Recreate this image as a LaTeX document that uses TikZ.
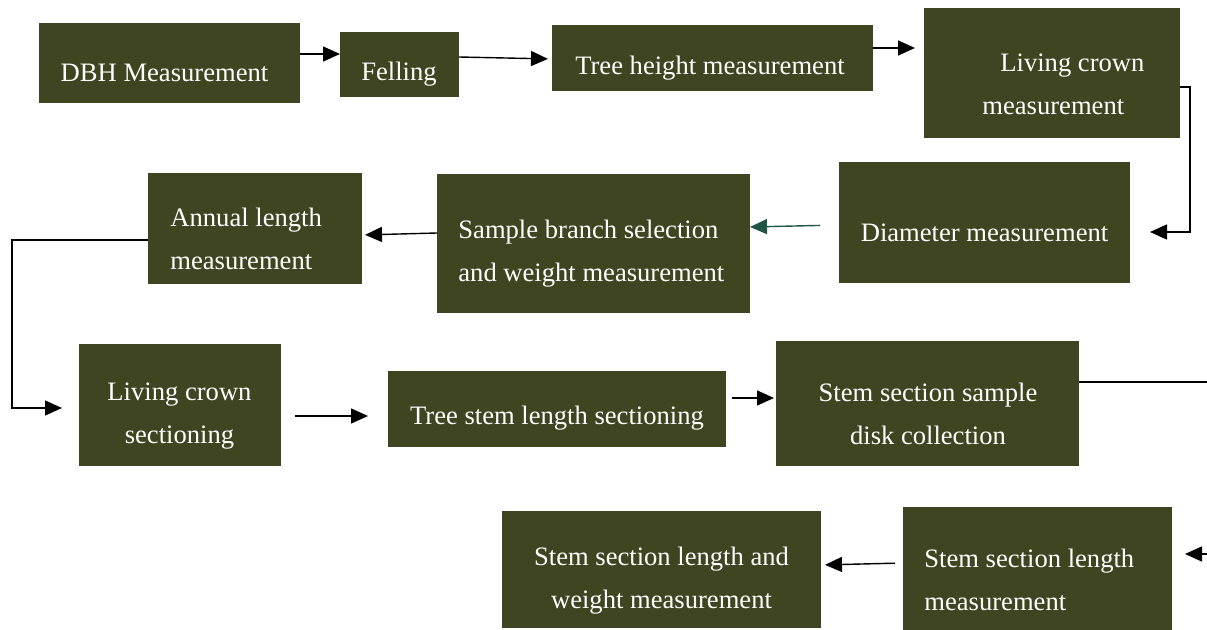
\documentclass[tikz,border=0pt]{standalone}
\usepackage{fontspec}
\setmainfont{Liberation Serif}
\usetikzlibrary{arrows.meta,fit}
\definecolor{boxfill}{HTML}{3F4421}
\definecolor{tealline}{HTML}{1F5446}
\newcommand{\bx}[5]{%
  \path (#2,#3) coordinate (#1-nw) (#4,#5) coordinate (#1-se);
  \node[box, fit=(#1-nw)(#1-se)] (#1) {};}
\begin{document}
\begin{tikzpicture}[x=0.5pt,y=-0.5pt,
  box/.style={fill=boxfill, draw=none, inner sep=0pt, outer sep=0pt},
  txt/.style={text=white, inner sep=0pt, font=\fontsize{13.3}{21.5}\selectfont},
  arr/.style={draw=black, line width=0.7pt, -{Triangle[length=8.5pt,width=7.5pt]}},
  ln/.style={draw=black, line width=0.7pt}]
\useasboundingbox (0,0) rectangle (1207,630);
% boxes
\bx{dbh}{39}{23}{300}{103}
\bx{fel}{340}{32}{459}{97}
\bx{th}{552}{25}{873}{91}
\bx{lc}{924}{8}{1180}{138}
\bx{dia}{839}{162}{1130}{283}
\bx{sb}{437}{174}{750}{313}
\bx{al}{148}{173}{362}{284}
\bx{lcs}{79}{344}{281}{466}
\bx{ts}{388}{371}{726}{447}
\bx{sd}{776}{341}{1079}{466}
\bx{sl}{903}{507}{1172}{630}
\bx{slw}{502}{511}{821}{628}
% texts
\node[txt] (dbhT) at (164.5,72.5) {DBH Measurement};
\node[txt] (felT) at (399,74) {Felling};
\node[txt] (thT) at (710,68) {Tree height measurement};
\node[txt, anchor=west, align=left] (lcT) at (982,84) {\hspace{9pt}Living crown\\measurement};
\node[txt] (diaT) at (984.5,233) {Diameter measurement};
\node[txt, anchor=west, align=left] (sbT) at (458,253.5) {Sample branch selection\\and weight measurement};
\node[txt, anchor=west, align=left] (alT) at (170,239) {Annual length\\measurement};
\node[txt, align=center] (lcsT) at (179.5,416) {Living crown\\sectioning};
\node[txt] (tsT) at (557,418.5) {Tree stem length sectioning};
\node[txt, align=center] (sdT) at (928,413.5) {Stem section sample\\disk collection};
\node[txt, anchor=west, align=left] (slT) at (924,580) {Stem section length\\measurement};
\node[txt, align=center] (slwT) at (661.5,580.5) {Stem section length and\\weight measurement};
% connectors
\coordinate (c1) at (1190,87);
\coordinate (c2) at (1190,232);
\coordinate (c3) at (12,240);
\coordinate (c4) at (12,408);
\coordinate (out1) at (1207,382);
\coordinate (in1) at (1207,554);
\draw[arr] (dbh.east |- 0,54) -- (fel.west |- 0,54);
\draw[arr, shorten >=2pt] (fel.east |- 0,57) -- (th.west |- 0,59);
\draw[arr, shorten >=4.5pt] (th.east |- 0,48) -- (lc.west |- 0,48);
\draw[arr, shorten >=10pt] (lc.east |- c1) -- (c1) -- (c2) -- (dia.east |- c2);
\draw[arr, draw=tealline, -{Triangle[length=8.5pt,width=7.5pt,fill=tealline]}, shorten <=9.5pt] (dia.west |- 0,225) -- (sb.east |- 0,227);
\draw[arr, shorten >=1.5pt] (sb.west |- 0,233) -- (al.east |- 0,235);
\draw[arr, shorten >=8.5pt] (al.west |- c3) -- (c3) -- (c4) -- (lcs.west |- c4);
\draw[arr, shorten <=7pt, shorten >=10pt] (lcs.east |- 0,416) -- (ts.west |- 0,416);
\draw[arr, shorten <=3pt, shorten >=1pt] (ts.east |- 0,398) -- (sd.west |- 0,398);
\draw[ln] (sd.east |- out1) -- (out1);
\draw[arr, shorten >=6.5pt] (in1) -- (sl.east |- in1);
\draw[arr, shorten <=4pt, shorten >=2pt] (sl.west |- 0,563) -- (slw.east |- 0,565);
\end{tikzpicture}
\end{document}
